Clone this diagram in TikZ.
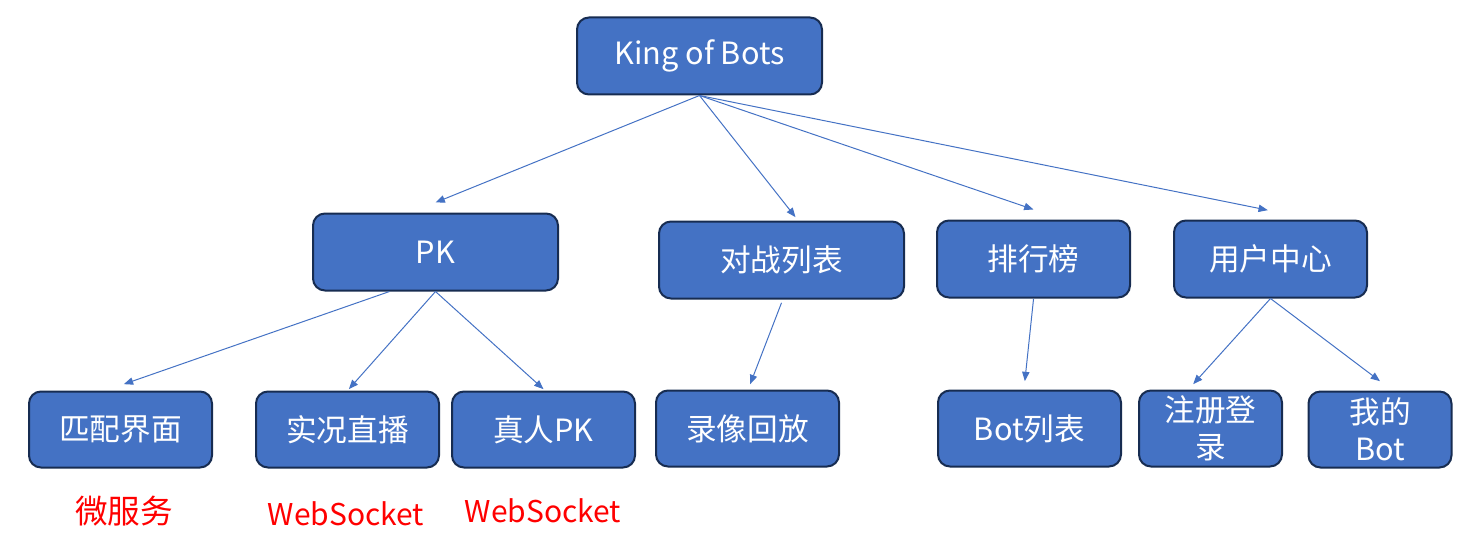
\documentclass[tikz,border=0pt]{standalone}
\usepackage{fontspec}
\setmainfont{Noto Sans CJK SC}
\usetikzlibrary{arrows.meta,positioning}
\definecolor{boxblue}{HTML}{4472C4}
\definecolor{boxedge}{HTML}{172C51}
\definecolor{notered}{HTML}{FF0000}

\begin{document}
\begin{tikzpicture}[
		x=0.75pt, y=-0.75pt,
		box/.style={draw=boxedge, line width=1.5pt, fill=boxblue, rounded corners=9pt, text=white, align=center, inner sep=0pt, font=\fontsize{23}{27.75}\selectfont},
		wide/.style={box, minimum width=183.75pt, minimum height=57.75pt},
		mid/.style={box, minimum width=144.75pt, minimum height=57.75pt},
		leaf/.style={box, minimum width=137.25pt, minimum height=57pt},
		narrow/.style={box, minimum width=107.25pt, minimum height=57pt},
		link/.style={-{Triangle[length=7pt,width=5.5pt]}, draw=boxblue, line width=0.75pt},
		note/.style={text=notered, font=\fontsize{24.5}{28}\selectfont},
		latinnote/.style={note, font=\fontsize{22.5}{28}\selectfont},
	]
		\useasboundingbox (0,0) rectangle (1479,535);

		\node (king) at (699.5,56) [wide] {King of Bots};

		\node (pk) at (435.5,252) [wide] {PK};
		\node (battle) at (781.5,260) [wide] {对战列表};
		\node (rank) at (1033.5,259) [mid] {排行榜};
		\node (user) at (1270.5,259) [mid] {用户中心};

		\node (match) at (120.5,429.5) [leaf] {匹配界面};
		\node (live) at (347.5,429.5) [leaf] {实况直播};
		\node (realpk) at (543.5,429.5) [leaf] {真人PK};
		\node (replay) at (747.5,428.5) [leaf] {录像回放};
		\node (botlist) at (1029.5,428.5) [leaf] {Bot列表};
		\node (register) at (1210.5,428.5) [narrow] {注册登\\录};
		\node (mybot) at (1380,429.5) [narrow] {我的\\Bot};

		\node (msvc) at (124,511) [note] {微服务};
		\node (wslive) at (346,514) [latinnote] {WebSocket};
		\node (wspk) at (543,511) [latinnote] {WebSocket};

		\draw[link] (king.south) -- ([yshift=7.5pt]pk.north);
		\draw[link] (king.south) -- ([xshift=10.5pt,yshift=2.5pt]battle.north);
		\draw[link] (king.south) -- ([yshift=7.5pt]rank.north);
		\draw[link] (king.south) -- ([xshift=-2pt,yshift=7pt]user.north);

		\draw[link] ([xshift=-34.5pt]pk.south) -- ([xshift=2.5pt,yshift=4.75pt]match.north);
		\draw[link] (pk.south) -- ([xshift=1pt,yshift=1pt]live.north);
		\draw[link] (pk.south) -- ([yshift=1pt]realpk.north);
		\draw[link] ([yshift=-2.5pt]battle.south) -- ([xshift=2pt,yshift=4pt]replay.north);
		\draw[link] ([yshift=-0.5pt]rank.south) -- ([xshift=-3.5pt,yshift=6.25pt]botlist.north);
		\draw[link] (user.south) -- ([xshift=-13pt,yshift=4pt]register.north);
		\draw[link] (user.south) -- ([yshift=7pt]mybot.north);
	\end{tikzpicture}
\end{document}
